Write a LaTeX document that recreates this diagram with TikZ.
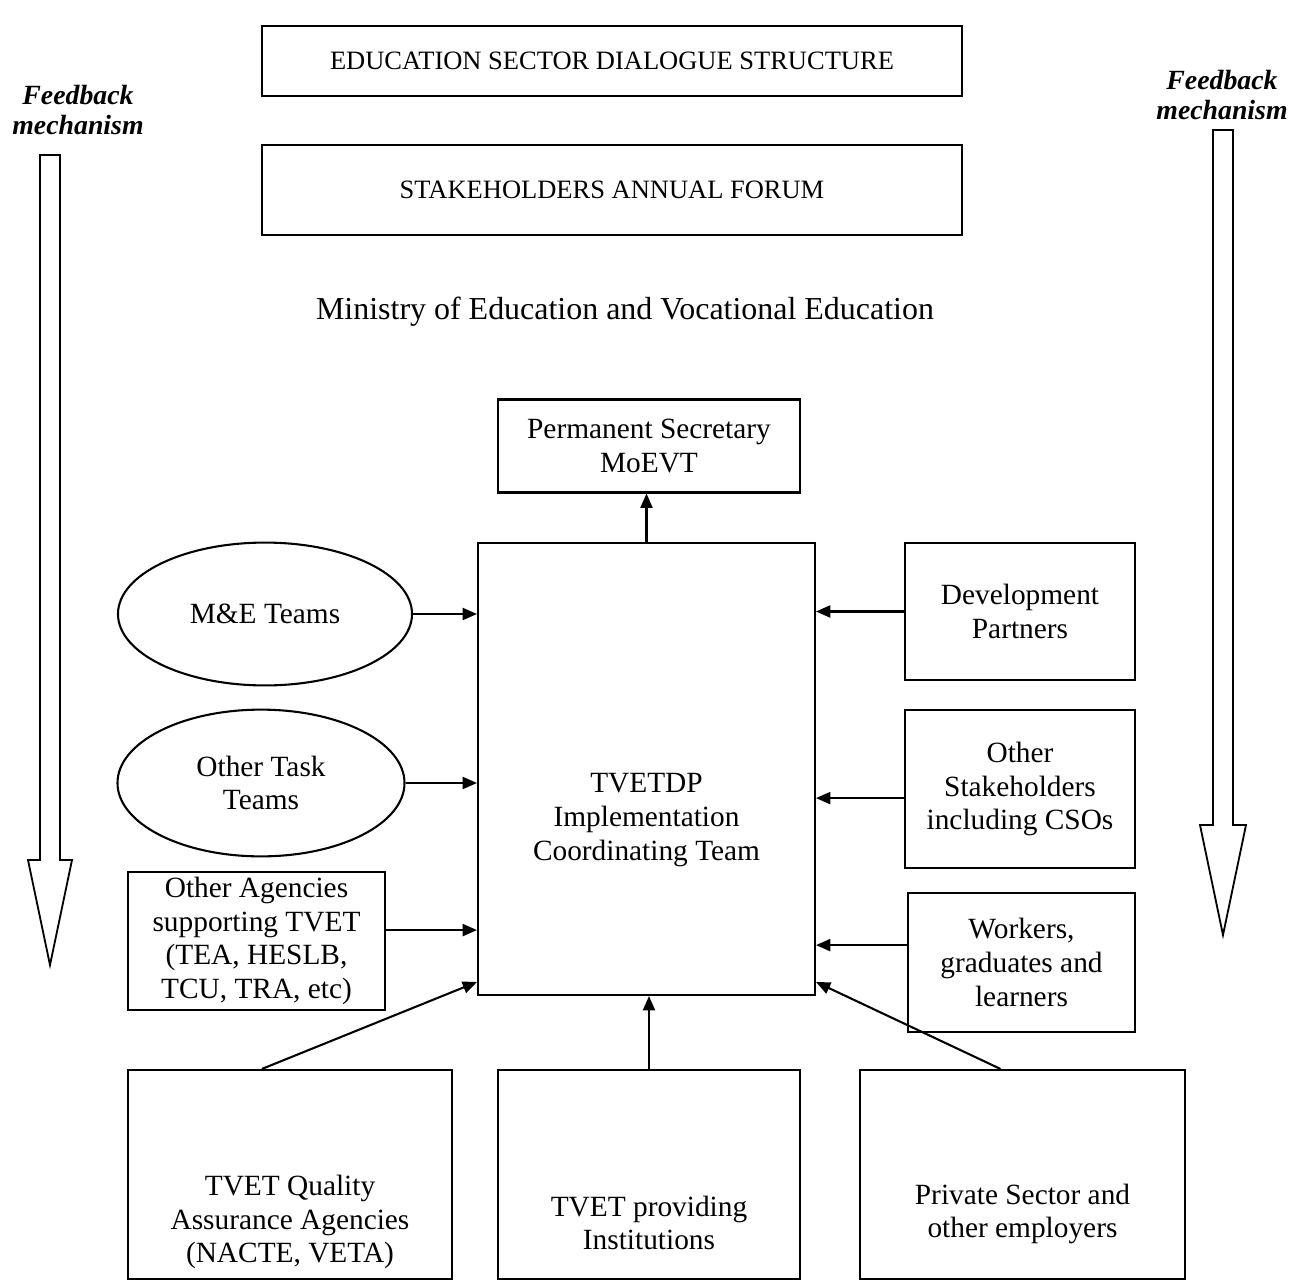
\documentclass[tikz,border=0pt]{standalone}
\usepackage{fontspec}
\setmainfont{Liberation Serif}
\usetikzlibrary{arrows.meta,calc,positioning,shapes.geometric}

\begin{document}
\begin{tikzpicture}[
  x=0.385pt, y=-0.385pt,
  every node/.style={font=\fontsize{11.3}{13}\selectfont},
  box/.style={draw, line width=0.8pt, align=center, inner sep=2pt},
  oval/.style={ellipse, draw, line width=0.8pt, align=center, inner sep=0pt},
  topbox/.style={box, minimum width=269.5pt, font=\fontsize{10.2}{12}\selectfont},
  flow/.style={-{Triangle[length=5.5pt,width=4.6pt]}, line width=0.8pt},
  hollow/.style={draw, line width=0.7pt, line join=miter},
  feedlabel/.style={font=\fontsize{10.7}{11.6}\selectfont\bfseries\itshape, align=center},
]
\useasboundingbox (0,0) rectangle (1290,1282);

% top of the structure
\node[topbox, minimum height=26.6pt] (dialogue) at (612,61) {EDUCATION SECTOR DIALOGUE STRUCTURE};
\node[topbox, minimum height=34.3pt] (forum) at (612,190) {STAKEHOLDERS ANNUAL FORUM};
\node[font=\fontsize{12.3}{14}\selectfont] (ministry) at (625,312) {Ministry of Education and Vocational Education};

\node[box, minimum width=116.3pt, minimum height=35.8pt] (permsec) at (649,446) {Permanent Secretary\\MoEVT};
\node[box, minimum width=129.7pt, minimum height=174pt] (tvet) at (646.5,769) {};
\node[align=center] (tvettext) at (646.5,820) {TVETDP\\Implementation\\Coordinating Team};

% left side
\node[oval, minimum width=113.2pt, minimum height=55pt] (mande) at (265,614) {M\&E Teams};
\node[oval, minimum width=110.5pt, minimum height=56.5pt] (tasks) at (261,783) {Other Task\\Teams};
\node[box, minimum width=99pt, minimum height=53pt, inner sep=1pt] (agencies) at (256.5,941) {Other Agencies\\supporting TVET\\(TEA, HESLB,\\TCU, TRA, etc)};

% right side
\node[box, minimum width=88.6pt, minimum height=52.7pt] (partners) at (1020,611.5) {Development\\Partners};
\node[box, minimum width=88.6pt, minimum height=60.8pt] (others) at (1020,789) {Other\\Stakeholders\\including CSOs};
\node[box, minimum width=87.4pt, minimum height=53.5pt] (workers) at (1021.5,962.5) {Workers,\\graduates and\\learners};

% bottom row
\node[box, minimum width=124.7pt, minimum height=80.5pt] (quality) at (290,1174.5) {};
\node[align=center] (qualitytext) at (290,1222) {TVET Quality\\Assurance Agencies\\(NACTE, VETA)};
\node[box, minimum width=116.3pt, minimum height=80.5pt] (providers) at (649,1174.5) {};
\node[align=center] (providerstext) at (649,1223) {TVET providing\\Institutions};
\node[box, minimum width=125.1pt, minimum height=80.5pt] (private) at (1022.5,1174.5) {};
\node[align=center] (privatetext) at (1022.5,1214) {Private Sector and\\other employers};

\draw[flow] (tvet.north) -- (tvet.north |- permsec.south);
\draw[flow] (mande.east) -- (mande.east -| tvet.west);
\draw[flow] (tasks.east) -- (tasks.east -| tvet.west);
\draw[flow] ([yshift=4.2pt]agencies.east) -- ([yshift=4.2pt]agencies.east -| tvet.west);
\draw[flow] (partners.west) -- (partners.west -| tvet.east);
\draw[flow] ([yshift=-3.5pt]others.west) -- ([yshift=-3.5pt]others.west -| tvet.east);
\draw[flow] ([yshift=6.7pt]workers.west) -- ([yshift=6.7pt]workers.west -| tvet.east);
\draw[flow] ([xshift=-10.8pt]quality.north) -- ([yshift=5.4pt]tvet.south west);
\draw[flow] (providers.north) -- (providers.north |- tvet.south);
\draw[flow] ([xshift=-8.5pt]private.north) -- ([yshift=5.4pt]tvet.south east);

% feedback arrows
\node[feedlabel] (leftfeed) at (78,110) {Feedback\\mechanism};
\node[feedlabel] (rightfeed) at (1222,95) {Feedback\\mechanism};
\draw[hollow] (40,155) -- (40,860) -- (28,860) -- (50,965) -- (72,860) -- (60,860) -- (60,155) -- cycle;
\draw[hollow] (1213,130) -- (1213,825) -- (1200,825) -- (1223,935) -- (1246,825) -- (1233,825) -- (1233,130) -- cycle;
\end{tikzpicture}
\end{document}
